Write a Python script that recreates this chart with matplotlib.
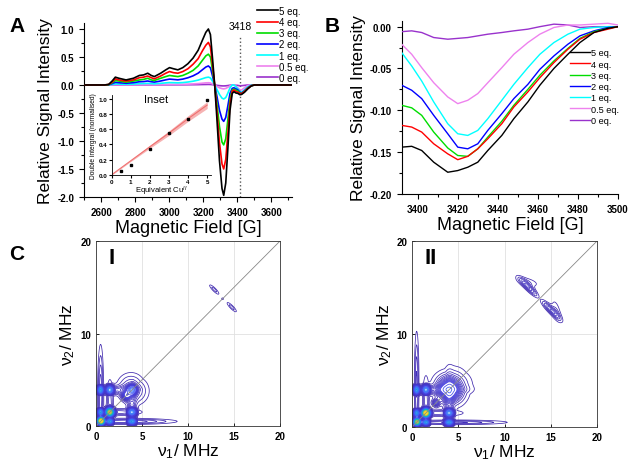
import numpy as np
import matplotlib
matplotlib.use('Agg')
import matplotlib.pyplot as plt
from matplotlib.colors import LinearSegmentedColormap
from matplotlib.ticker import MultipleLocator, FormatStrFormatter

plt.rcParams['font.family'] = ['Liberation Sans', 'DejaVu Sans']
plt.rcParams['mathtext.fontset'] = 'custom'
plt.rcParams['mathtext.rm'] = 'Liberation Sans'
plt.rcParams['mathtext.it'] = 'Liberation Sans:italic'
plt.rcParams['mathtext.bf'] = 'Liberation Sans:bold'

labels = ['5 eq.', '4 eq.', '3 eq.', '2 eq.', '1 eq.', '0.5 eq.', '0 eq.']
colours = ['#000000', '#ff0000', '#00dd00', '#0000ff', '#00ffff', '#ee82ee', '#9932cc']

# panel A: full EPR spectra
field_a = [2500, 2620, 2645, 2665, 2684, 2705, 2747, 2790, 2825, 2850, 2874, 2895,
           2913, 2950, 2980, 3002, 3025, 3051, 3080, 3110, 3140, 3170, 3195, 3215,
           3230, 3242, 3255, 3267, 3280, 3295, 3310, 3320, 3332, 3345, 3357, 3370,
           3380, 3392, 3402, 3415, 3425, 3442, 3461, 3481, 3500, 3720]
a_eq5 = [0, 0, 0.01, 0.07, 0.14, 0.12, 0.09, 0.12, 0.17, 0.18, 0.21, 0.17, 0.15, 0.21,
         0.27, 0.31, 0.29, 0.27, 0.31, 0.38, 0.48, 0.62, 0.80, 0.94, 1.00, 0.90, 0.45,
         0.00, -0.60, -1.35, -1.85, -1.97, -1.75, -1.10, -0.45, -0.15, -0.12, -0.144,
         -0.148, -0.174, -0.168, -0.130, -0.070, -0.019, 0, 0]
a_eq4 = [0, 0, 0.01, 0.05, 0.11, 0.09, 0.07, 0.09, 0.13, 0.14, 0.16, 0.13, 0.11, 0.16,
         0.21, 0.24, 0.22, 0.21, 0.24, 0.29, 0.37, 0.47, 0.61, 0.71, 0.76, 0.68, 0.34,
         0.00, -0.46, -1.03, -1.41, -1.50, -1.33, -0.84, -0.34, -0.11, -0.09, -0.118,
         -0.126, -0.152, -0.154, -0.116, -0.061, -0.015, 0, 0]
a_eq3 = [0, 0, 0.005, 0.04, 0.08, 0.07, 0.05, 0.07, 0.09, 0.10, 0.12, 0.09, 0.08, 0.12,
         0.15, 0.17, 0.16, 0.15, 0.17, 0.21, 0.26, 0.34, 0.44, 0.52, 0.55, 0.50, 0.25,
         0.00, -0.33, -0.74, -1.02, -1.07, -0.96, -0.60, -0.25, -0.09, -0.075, -0.094,
         -0.106, -0.145, -0.155, -0.113, -0.058, -0.014, 0, 0]
a_eq2 = [0, 0, 0.003, 0.024, 0.048, 0.041, 0.031, 0.041, 0.058, 0.061, 0.071, 0.058,
         0.051, 0.071, 0.092, 0.105, 0.099, 0.092, 0.105, 0.129, 0.163, 0.211, 0.272,
         0.32, 0.34, 0.306, 0.153, 0.0, -0.2, -0.45, -0.61, -0.65, -0.58, -0.36, -0.15,
         -0.06, -0.05, -0.07, -0.086, -0.13, -0.146, -0.104, -0.051, -0.011, 0, 0]
a_eq1 = [0, 0, 0.001, 0.01, 0.02, 0.017, 0.013, 0.017, 0.024, 0.025, 0.029, 0.024,
         0.021, 0.029, 0.038, 0.043, 0.041, 0.038, 0.043, 0.053, 0.067, 0.087, 0.112,
         0.132, 0.14, 0.126, 0.063, 0.0, -0.08, -0.17, -0.235, -0.25, -0.225, -0.14,
         -0.05, 0.0, 0.0, -0.031, -0.065, -0.116, -0.13, -0.088, -0.033, -0.003, 0, 0]
a_eq05 = [0, 0, 0, 0.003, 0.006, 0.005, 0.004, 0.005, 0.007, 0.007, 0.008, 0.007,
          0.006, 0.008, 0.011, 0.012, 0.012, 0.011, 0.012, 0.015, 0.019, 0.025, 0.032,
          0.038, 0.04, 0.036, 0.018, 0.0, -0.025, -0.05, -0.065, -0.07, -0.062, -0.04,
          -0.015, 0.0, 0.0, -0.021, -0.049, -0.084, -0.09, -0.049, -0.009, 0.002, 0.002, 0]
a_eq0 = [0, 0, 0, 0, 0.001, 0.001, 0.001, 0.001, 0.002, 0.002, 0.002, 0.002, 0.002,
         0.002, 0.003, 0.003, 0.003, 0.003, 0.003, 0.004, 0.005, 0.006, 0.008, 0.009,
         0.01, 0.009, 0.005, 0.0, -0.006, -0.012, -0.016, -0.017, -0.015, -0.01, -0.004,
         -0.002, -0.003, -0.006, -0.007, -0.015, -0.013, -0.007, 0.0, -0.001, 0, 0]
marker_field = 3418

# inset: double integral vs equivalents of Cu(II)
cu_equiv = [0.5, 1, 2, 3, 4, 5]
double_int = [0.05, 0.13, 0.34, 0.55, 0.74, 0.99]
fit_x = [0, 1, 2, 3, 4, 5]
fit_y = [0, 0.185, 0.37, 0.55, 0.74, 0.92]
band_lo = [-0.005, 0.175, 0.35, 0.52, 0.705, 0.875]
band_hi = [0.005, 0.195, 0.39, 0.58, 0.78, 0.965]

# panel B: zoom on the 3392-3500 G region
field_b = [3392, 3397, 3402, 3408, 3415, 3420, 3425, 3430, 3435, 3442, 3448, 3455,
           3461, 3468, 3475, 3481, 3488, 3495, 3500]
b_eq5 = [-0.144, -0.143, -0.148, -0.162, -0.174, -0.172, -0.168, -0.162, -0.148, -0.130,
         -0.110, -0.090, -0.070, -0.050, -0.033, -0.019, -0.007, -0.002, 0.0]
b_eq4 = [-0.118, -0.120, -0.126, -0.140, -0.152, -0.159, -0.155, -0.146, -0.134, -0.116,
         -0.096, -0.078, -0.061, -0.043, -0.027, -0.015, -0.007, -0.003, 0.0]
b_eq3 = [-0.094, -0.097, -0.106, -0.126, -0.145, -0.154, -0.155, -0.146, -0.132, -0.113,
         -0.094, -0.075, -0.058, -0.041, -0.026, -0.014, -0.006, -0.002, 0.0]
b_eq2 = [-0.070, -0.076, -0.086, -0.106, -0.128, -0.144, -0.146, -0.140, -0.124, -0.104,
         -0.086, -0.069, -0.051, -0.035, -0.021, -0.011, -0.005, -0.001, 0.0]
b_eq1 = [-0.031, -0.047, -0.065, -0.090, -0.116, -0.128, -0.130, -0.124, -0.110, -0.088,
         -0.069, -0.049, -0.033, -0.019, -0.009, -0.003, -0.001, 0.0, 0.0]
b_eq05 = [-0.021, -0.033, -0.049, -0.067, -0.084, -0.092, -0.088, -0.080, -0.067, -0.049,
          -0.033, -0.019, -0.009, -0.001, 0.002, 0.002, 0.003, 0.004, 0.002]
b_eq0 = [-0.006, -0.005, -0.007, -0.013, -0.015, -0.014, -0.013, -0.011, -0.009, -0.007,
         -0.005, -0.003, 0.0, 0.003, 0.002, -0.001, 0.0, 0.0, 0.0]

# panel C: HYSCORE features, estimated as (nu1, nu2, width_u, width_v, angle, height);
# each map is mirrored about the diagonal
hyscore_1 = [
    (0.55, 0.55, 0.22, 0.22, 0, 1.0),
    (1.5, 1.5, 0.25, 0.25, 0, 0.8),
    (0.5, 1.5, 0.18, 0.25, 0, 0.3),
    (0.5, 3.9, 0.2, 0.3, 0, 0.3),
    (1.5, 3.9, 0.25, 0.3, 0, 0.25),
    (3.9, 3.9, 0.3, 0.3, 0, 0.18),
    (3.3, 3.3, 0.3, 0.3, 0, 0.1),
    (3.5, 0.5, 3.2, 0.2, 0, 0.04),
    (2.3, 1.5, 1.8, 0.25, 0, 0.03),
    (2.3, 3.9, 1.8, 0.3, 0, 0.03),
    (3.8, 4.2, 1.0, 1.0, 0, 0.035),
    (0.5, 8.3, 0.1, 0.1, 0, 0.016),
    (12.85, 14.75, 0.55, 0.14, -45, 0.022),
    (13.75, 13.75, 0.1, 0.1, 0, 0.014),
]
hyscore_2 = [
    (0.55, 0.55, 0.22, 0.22, 0, 0.75),
    (1.5, 1.5, 0.25, 0.25, 0, 1.0),
    (0.5, 1.5, 0.18, 0.25, 0, 0.3),
    (0.5, 4.0, 0.2, 0.3, 0, 0.3),
    (1.5, 4.0, 0.25, 0.3, 0, 0.25),
    (4.0, 4.0, 0.7, 0.7, 0, 0.12),
    (2.6, 2.6, 0.25, 0.25, 0, 0.06),
    (4.3, 4.6, 1.4, 1.1, 0, 0.035),
    (4.6, 0.5, 3.6, 0.16, 0, 0.035),
    (2.5, 1.5, 2.0, 0.25, 0, 0.03),
    (2.5, 4.0, 2.0, 0.3, 0, 0.03),
    (12.6, 15.0, 0.9, 0.22, -45, 0.045),
    (12.5, 15.6, 1.0, 0.35, -15, 0.016),
]

parula = LinearSegmentedColormap.from_list('parula', [
    '#3e26a8', '#4744e8', '#2f73fb', '#1b98e0', '#11b3c5', '#38c199',
    '#92bf63', '#e1b93a', '#fcd030', '#f9fb15'])


def hyscore_map(peaks, grid):
    X, Y = np.meshgrid(grid, grid)
    Z = np.zeros_like(X)
    for x0, y0, su, sv, ang, h in peaks:
        t = np.deg2rad(ang)
        u = (X - x0) * np.cos(t) + (Y - y0) * np.sin(t)
        v = -(X - x0) * np.sin(t) + (Y - y0) * np.cos(t)
        Z += h * np.exp(-0.5 * ((u / su) ** 2 + (v / sv) ** 2))
    return X, Y, np.maximum(Z, Z.T)


def origin_style(ax):
    ax.spines['top'].set_visible(False)
    ax.spines['right'].set_visible(False)
    ax.tick_params(which='both', direction='out', width=0.8)
    ax.tick_params(which='major', length=3.5, labelsize=7)
    ax.tick_params(which='minor', length=2)
    for t in ax.get_xticklabels() + ax.get_yticklabels():
        t.set_fontweight('bold')


fig = plt.figure(figsize=(6.3, 4.6), dpi=100)

# ---- A ----
ax = fig.add_axes([0.1333, 0.5696, 0.330, 0.3774])
series_a = [a_eq5, a_eq4, a_eq3, a_eq2, a_eq1, a_eq05, a_eq0]
for i, (y, c, lab) in enumerate(zip(series_a, colours, labels)):
    ax.plot(field_a, y, color=c, lw=1.2, label=lab, zorder=10 - i)
ax.axvline(marker_field, ymax=0.93, color='#555555', ls=':', lw=1)
ax.text(marker_field, 1.06, str(marker_field), ha='center', va='center', fontsize=7.5)
ax.set_xlim(2500, 3720)
ax.set_ylim(-2.0, 1.1)
ax.xaxis.set_major_locator(MultipleLocator(200))
ax.xaxis.set_minor_locator(MultipleLocator(100))
ax.yaxis.set_major_locator(MultipleLocator(0.5))
ax.yaxis.set_minor_locator(MultipleLocator(0.25))
ax.yaxis.set_major_formatter(FormatStrFormatter('%.1f'))
origin_style(ax)
ax.set_xlabel('Magnetic Field [G]', fontsize=13, labelpad=2)
ax.set_ylabel('Relative Signal Intensity', fontsize=12.5, labelpad=3)
ax.legend(loc='upper right', bbox_to_anchor=(0.49, 0.985), bbox_transform=fig.transFigure,
          frameon=False, fontsize=7, handlelength=2.2, handletextpad=0.1,
          labelspacing=0.12, borderpad=0, borderaxespad=0)

ins = fig.add_axes([0.1773, 0.618, 0.1576, 0.1728])
ins.patch.set_alpha(0)
ins.fill_between(fit_x, band_lo, band_hi, color='#f4a0a0', alpha=0.8, lw=0)
ins.plot(fit_x, fit_y, color='#f07070', lw=0.8)
ins.plot(cu_equiv, double_int, 's', color='black', ms=1.5)
ins.set_xlim(0, 5.2)
ins.set_ylim(0, 1.05)
ins.xaxis.set_major_locator(MultipleLocator(1))
ins.yaxis.set_major_locator(MultipleLocator(0.2))
ins.yaxis.set_major_formatter(FormatStrFormatter('%.1f'))
origin_style(ins)
ins.tick_params(which='major', length=2, labelsize=4.5, pad=1)
ins.spines['left'].set_linewidth(0.6)
ins.spines['bottom'].set_linewidth(0.6)
ins.set_xlabel('Equivalent Cu$^{II}$', fontsize=5.5, labelpad=0)
ins.set_ylabel('Double intergral (normalised)', fontsize=4.8, labelpad=1)
ins.text(2.3, 1.0, 'Inset', ha='center', va='center', fontsize=8)

# ---- B ----
bx = fig.add_axes([0.6376, 0.5761, 0.3433, 0.3765])
series_b = [b_eq5, b_eq4, b_eq3, b_eq2, b_eq1, b_eq05, b_eq0]
for i, (y, c, lab) in enumerate(zip(series_b, colours, labels)):
    bx.plot(field_b, y, color=c, lw=1.0, label=lab, zorder=10 - i)
bx.set_xlim(3392, 3500)
bx.set_ylim(-0.2, 0.007)
bx.xaxis.set_major_locator(MultipleLocator(20))
bx.xaxis.set_minor_locator(MultipleLocator(10))
bx.yaxis.set_major_locator(MultipleLocator(0.05))
bx.yaxis.set_minor_locator(MultipleLocator(0.025))
bx.yaxis.set_major_formatter(FormatStrFormatter('%.2f'))
origin_style(bx)
bx.set_xlabel('Magnetic Field [G]', fontsize=13, labelpad=2)
bx.set_ylabel('Relative Signal Intensity', fontsize=12.5, labelpad=3)
bx.legend(loc='upper right', bbox_to_anchor=(0.982, 0.893), bbox_transform=fig.transFigure,
          frameon=False, fontsize=6.6, handlelength=2.2, handletextpad=0.1,
          labelspacing=0.25, borderpad=0, borderaxespad=0)

# ---- C ----
grid = np.linspace(0, 20, 401)
levels = np.concatenate([np.linspace(0.01, 0.1, 13), np.linspace(0.13, 1.0, 30)])
for rect, peaks, tag in [([0.1524, 0.0717, 0.2921, 0.4022], hyscore_1, 'I'),
                         ([0.654, 0.0696, 0.2937, 0.4043], hyscore_2, 'II')]:
    cx = fig.add_axes(rect)
    X, Y, Z = hyscore_map(peaks, grid)
    cx.contour(X, Y, Z, levels=levels, cmap=parula, vmin=0, vmax=1, linewidths=0.55)
    cx.plot([0, 20], [0, 20], color='#888888', lw=0.6)
    cx.set_xlim(0, 20)
    cx.set_ylim(0, 20)
    cx.set_xticks([0, 5, 10, 15, 20])
    cx.set_yticks([0, 10, 20])
    cx.grid(color='#e0e0e0', lw=0.6)
    cx.set_axisbelow(True)
    cx.tick_params(direction='in', length=2, width=0.6, labelsize=7)
    for t in cx.get_xticklabels() + cx.get_yticklabels():
        t.set_fontweight('bold')
    for s in cx.spines.values():
        s.set_linewidth(0.6)
        s.set_color('#333333')
    cx.set_xlabel('ν$_1$/ MHz', fontsize=12.5, labelpad=0)
    cx.set_ylabel('ν$_2$/ MHz', fontsize=12.5, labelpad=2)
    cx.text(0.07, 0.91, tag, transform=cx.transAxes, ha='left', va='center',
            fontsize=16, fontweight='bold')

fig.text(0.027, 0.943, 'A', fontsize=15, fontweight='bold', ha='center', va='center')
fig.text(0.528, 0.943, 'B', fontsize=15, fontweight='bold', ha='center', va='center')
fig.text(0.027, 0.446, 'C', fontsize=15, fontweight='bold', ha='center', va='center')

fig.savefig('out.png', dpi=100)
